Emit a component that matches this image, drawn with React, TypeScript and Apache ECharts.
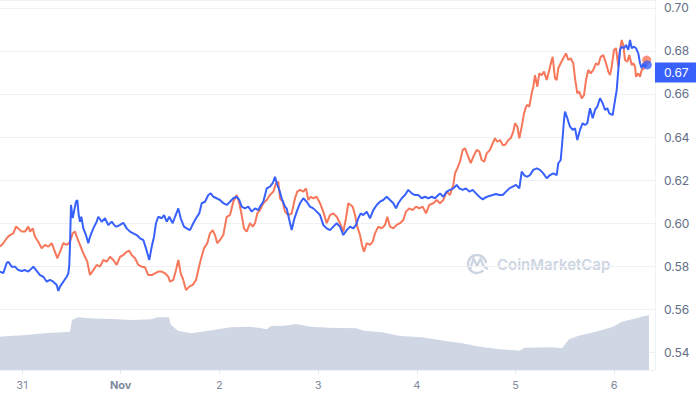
import React, { useEffect, useRef } from "react";
import * as echarts from "echarts";

// Hours relative to Oct 31, 00:00
const blueHours = [
  -5.35, -4.55, -3.72, -3.33, -2.5, -1.7, -0.9, -0.07, 0.73, 1.53, 2.36, 2.75, 3.57, 4.38, 5.18, 6.01, 6.81, 7.61, 8.44, 8.83,
  9.24, 10.04, 10.87, 11.26, 11.5, 11.67, 11.91, 12.33, 12.64, 13.13, 13.45, 13.79, 14.1, 14.42, 14.91, 15.56, 16.12, 16.53,
  17.34, 18.16, 18.55, 19.38, 20.18, 20.98, 21.81, 22.61,
  23.03, 23.83, 24.63, 25.46, 26.26, 27.06, 27.89, 28.69, 29.5, 30.15, 30.95, 31.54, 32.1, 32.58, 33.14, 33.97, 34.53, 35.19,
  35.82, 36.64, 37.2, 38.01, 38.59, 39.39, 40.05, 40.85, 41.65, 42.31, 43.11, 43.7, 44.5, 45.3, 45.89, 46.52, 47.34, 48.15,
  48.95, 49.78, 50.58, 51.38, 52.21, 52.84, 53.42, 54.22, 55.03, 55.85, 56.66, 57.46, 57.87, 58.67, 59.5, 60.3, 60.96, 61.52,
  62.08, 62.56, 63.15, 63.95, 64.36, 65.0, 65.58, 66.14, 66.8, 67.6, 68.4, 69.23, 70.03, 70.83, 71.66, 72.46, 73.26, 74.09, 74.89,
  75.7, 76.52, 77.32, 78.13, 78.95, 79.76, 80.56, 81.22, 81.78, 82.36, 82.99, 83.82, 84.62, 85.42, 86.25, 87.05, 87.85, 88.68,
  89.48, 90.29, 90.94, 91.5, 92.33, 93.13, 93.93, 94.76, 95.56, 96.36, 97.19, 97.99, 98.8, 99.62, 100.43, 101.23,
  101.64, 102.44, 103.27, 104.07, 104.88, 105.7, 106.33, 107.16, 107.96, 108.77, 109.59, 110.39, 111.2, 112.02, 112.83, 113.63,
  114.46, 115.26, 116.06, 116.89, 117.69, 118.5, 119.32, 120.13, 120.93, 121.51, 122.07, 122.73, 123.53, 124.33, 125.16, 125.96,
  126.76, 127.59, 128.39,
  129.19, 130.02, 130.41, 130.99, 131.48, 131.79, 132.04, 132.6, 133.25, 133.91, 134.47, 135.03, 135.68, 136.34, 136.9, 137.46,
  138.11, 138.77, 139.33, 139.89, 140.55, 141.2, 141.76, 142.32, 142.81, 143.63, 143.95, 144.61, 145.0, 145.41, 145.82, 146.38,
  146.87, 147.43, 147.84, 148.26, 148.82, 149.3, 149.86, 150.27, 150.69, 151.08, 151.49, 152.05,
];
const bluePrices = [
  0.5774, 0.5767, 0.5814, 0.582, 0.5797, 0.5797, 0.5781, 0.5777, 0.5781, 0.5774, 0.5789, 0.5797, 0.5777, 0.5758, 0.575, 0.5727,
  0.5735, 0.5727, 0.5712, 0.5684, 0.5704, 0.5727, 0.575, 0.5766, 0.5805, 0.5898, 0.6084, 0.6023, 0.6053, 0.6099, 0.6107, 0.6037,
  0.6006, 0.6029, 0.5975, 0.5944, 0.5906, 0.5936, 0.5975, 0.6006, 0.6029, 0.6006, 0.6022, 0.5991, 0.6006, 0.5986,
  0.5983, 0.5991, 0.6001, 0.5975, 0.596, 0.5952, 0.5944, 0.5929, 0.5921, 0.5882, 0.5828, 0.589, 0.5936, 0.5999, 0.6029, 0.6022,
  0.6037, 0.6006, 0.6029, 0.5999, 0.6029, 0.6068, 0.6022, 0.5983, 0.5975, 0.5967, 0.5999, 0.6022, 0.6045, 0.6092, 0.6099, 0.613,
  0.6138, 0.6122, 0.6115, 0.6107,
  0.6092, 0.6084, 0.6099, 0.6115, 0.6122, 0.6107, 0.6076, 0.6068, 0.6076, 0.6053, 0.6068, 0.606, 0.6076, 0.6099, 0.6161, 0.6169,
  0.6185, 0.6215, 0.6177, 0.6154, 0.6115, 0.6076, 0.6068, 0.6014, 0.5967, 0.6014, 0.6053, 0.6092, 0.6115, 0.6099, 0.6076, 0.6068,
  0.6053, 0.6037, 0.5991, 0.5975, 0.5967,
  0.5983, 0.5999, 0.5983, 0.5944, 0.5967, 0.5983, 0.5975, 0.5991, 0.6022, 0.6045, 0.6037, 0.6053, 0.6022, 0.606, 0.6084, 0.6099,
  0.6107, 0.6122, 0.6107, 0.6092, 0.6068, 0.6092, 0.6115, 0.613, 0.6154, 0.6138, 0.613, 0.613, 0.6115, 0.6122, 0.6115, 0.6122,
  0.6115, 0.613,
  0.6138, 0.6122, 0.6146, 0.6154, 0.6161, 0.6177, 0.6161, 0.6154, 0.6161, 0.6146, 0.6154, 0.6138, 0.6122, 0.611, 0.612, 0.6126,
  0.613, 0.6135, 0.613, 0.613, 0.6146, 0.6161, 0.6169, 0.6177, 0.6161, 0.6239, 0.6223, 0.6215, 0.6223, 0.6247, 0.6254, 0.6247,
  0.6231, 0.6208, 0.6223,
  0.6231, 0.6223, 0.6278, 0.6293, 0.6401, 0.6479, 0.6518, 0.6487, 0.6448, 0.6433, 0.644, 0.6386, 0.6433, 0.6464, 0.6456, 0.6464,
  0.6534, 0.6487, 0.6526, 0.6541, 0.658, 0.6557, 0.6526, 0.6534, 0.651, 0.6502, 0.6541, 0.6619, 0.6712, 0.6805, 0.682, 0.6813,
  0.6828, 0.6805, 0.6851, 0.6813, 0.682, 0.6813, 0.6789, 0.6743, 0.672, 0.6743, 0.6727, 0.6735,
];

const orangeHours = [
  -5.35, -4.55, -3.72, -2.92, -2.12, -1.46, -0.9, -0.07, 0.73, 1.53, 1.95, 2.6, 3.16, 3.96, 4.79, 5.59, 6.4, 7.22, 8.02, 8.58,
  9.24, 10.04, 10.87, 11.67, 12.33, 12.89, 13.45, 14.1, 14.76, 15.32, 15.88, 16.53, 17.34, 18.16, 18.97, 19.77, 20.6, 21.4, 22.2,
  23.03, 23.83, 24.63, 25.46, 26.09, 26.67, 27.48, 28.28, 29.11, 29.91, 30.71, 31.54, 32.34, 33.14, 33.97, 34.77, 35.57, 35.99,
  36.79, 37.45, 38.01, 38.59, 39.22, 39.88, 40.68, 41.51, 42.31, 42.87, 43.45, 44.25, 45.06, 45.71, 46.37, 46.93, 47.49, 48.15,
  48.95, 49.78, 50.58, 51.38, 52.21, 52.84, 53.42, 53.98, 54.64, 55.44, 56.1, 56.66, 57.22, 57.87, 58.67, 59.5, 60.3, 61.11,
  61.76, 62.32, 62.74, 63.39, 63.95, 64.75, 65.58, 66.38, 66.94, 67.6, 68.4, 69.06, 69.62, 70.2, 70.83, 71.66, 72.46, 73.26, 74.09,
  74.89,
  75.7, 76.52, 77.32, 78.13, 78.78, 79.34, 79.93, 80.41, 80.97, 81.53, 82.19, 82.67, 83.16, 83.82, 84.62, 85.28, 85.84, 86.64,
  87.46, 88.27, 88.83, 89.48, 90.29, 91.11, 91.91, 92.72, 93.37, 94.18, 95.0, 95.81, 96.61, 97.44, 98.24, 99.04, 100.01, 100.84,
  101.64,
  102.44, 103.27, 104.07, 104.88, 105.29, 105.85, 106.5, 107.16, 107.72, 108.52, 109.11, 109.74, 110.57, 111.2, 111.78, 112.41,
  113.0, 113.8, 114.46, 115.01, 115.57, 116.23, 116.89, 117.45, 118.25, 118.83, 119.47, 119.88, 120.44, 120.93, 121.51, 122.07,
  122.56, 122.87, 123.36, 123.94, 124.33, 124.74, 125.3, 125.79, 126.37, 126.93, 127.59, 128.22, 128.8,
  129.04, 129.6, 130.02, 130.41, 130.99, 131.62, 132.28, 132.84, 133.42, 134.05, 134.47, 135.03, 135.52, 136.1, 136.66, 137.14,
  137.7, 138.28, 138.92, 139.57, 140.13, 140.72, 141.35, 142.01, 142.57, 142.98, 143.39, 143.95, 144.44, 145.0, 145.41, 145.82,
  146.21, 146.63, 147.19, 147.67, 148.26, 148.65, 149.06, 149.3, 149.86, 150.27, 150.69, 151.25, 151.9,
];
const orangePrices = [
  0.589, 0.5906, 0.5929, 0.5944, 0.5952, 0.5983, 0.5975, 0.596, 0.596, 0.5983, 0.596, 0.5975, 0.5936, 0.5913, 0.5882, 0.5898,
  0.589, 0.5906, 0.5866, 0.5836, 0.5866, 0.5906, 0.5898, 0.5913, 0.5952, 0.596, 0.5929, 0.5898, 0.5866, 0.5843, 0.582, 0.5758,
  0.5781, 0.5805, 0.5797, 0.5828, 0.582, 0.5843, 0.5828,
  0.5805, 0.5843, 0.5851, 0.5866, 0.5871, 0.5851, 0.5836, 0.5805, 0.5797, 0.5794, 0.5758, 0.5758, 0.5766, 0.5774, 0.5774, 0.5766,
  0.575, 0.5727, 0.5735, 0.5781, 0.5828, 0.5766, 0.5735, 0.5688, 0.5704, 0.5712, 0.5735, 0.5781, 0.5828, 0.5882, 0.5906, 0.5952,
  0.5967, 0.5944, 0.5906, 0.5921,
  0.5944, 0.6029, 0.6037, 0.6099, 0.613, 0.6092, 0.6037, 0.5975, 0.596, 0.5999, 0.5983, 0.5999, 0.6045, 0.606, 0.6092, 0.6107,
  0.613, 0.6146, 0.6185, 0.6192, 0.6115, 0.6099, 0.6053, 0.6037, 0.6045, 0.6115, 0.6146, 0.6154, 0.6146, 0.6161, 0.6107, 0.6122,
  0.6115, 0.6122, 0.6092, 0.6053, 0.5999, 0.6037,
  0.6045, 0.6029, 0.5999, 0.596, 0.6022, 0.6092, 0.6084, 0.6076, 0.6037, 0.5983, 0.5944, 0.5898, 0.5866, 0.5906, 0.5898, 0.5913,
  0.5952, 0.5983, 0.5975, 0.5991, 0.6029, 0.5983, 0.5975, 0.5991, 0.5999, 0.6014, 0.6053, 0.6068, 0.606, 0.6076, 0.6068, 0.6076,
  0.6045, 0.6084, 0.6092, 0.6107, 0.6092,
  0.6107, 0.6146, 0.613, 0.6177, 0.6231, 0.6254, 0.6285, 0.634, 0.6347, 0.6308, 0.6278, 0.6308, 0.634, 0.6332, 0.6293, 0.6285,
  0.6324, 0.634, 0.6371, 0.6394, 0.6378, 0.6386, 0.6363, 0.6363, 0.6386, 0.6394, 0.6425, 0.6464, 0.6448, 0.6394, 0.6448, 0.651,
  0.6541, 0.6549, 0.6541, 0.6603, 0.6634, 0.6688, 0.6634, 0.6696, 0.6688, 0.6704, 0.6665, 0.6712, 0.6758,
  0.6773, 0.6673, 0.6665, 0.672, 0.6743, 0.6766, 0.6789, 0.6758, 0.6766, 0.6743, 0.6673, 0.6603, 0.6611, 0.658, 0.6595, 0.6665,
  0.6712, 0.6696, 0.6712, 0.6743, 0.6735, 0.6773, 0.6781, 0.6743, 0.6704, 0.6688, 0.6727, 0.6805, 0.6813, 0.6727, 0.6805, 0.6851,
  0.6828, 0.6758, 0.675, 0.6781, 0.6735, 0.6743, 0.6727, 0.668, 0.6696, 0.668, 0.6712, 0.672, 0.6758,
];

const volumeHours = [
  -5.35, -3.16, 1.22, 5.35, 9.73, 11.67, 12.16, 13.62, 16.29, 21.64, 26.99, 31.37, 33.07, 35.74, 36.23, 37.93, 41.09, 43.77,
  46.44, 50.82, 55.2, 57.39, 59.57, 60.55, 63.71, 66.63, 70.27, 74.65, 81.22, 83.16, 87.54, 91.91, 97.26, 102.61, 106.99, 111.37,
  115.74, 121.09, 122.07, 128.63, 131.31, 133.01, 135.2, 139.57, 143.71, 145.89, 150.27, 152.46,
];
const volumeM = [
  333, 340, 350, 367, 377, 383, 500, 527, 517, 510, 500, 507, 527, 527, 450, 393, 367, 383, 400, 427, 433, 423, 407, 440, 443,
  460, 433, 423, 417, 393, 377, 340, 327, 293, 267, 233, 210, 193, 223, 227, 217, 307, 340, 383, 433, 483, 527, 550,
];

const priceTicks = ["0.54", "0.56", "0.58", "0.60", "0.62", "0.64", "0.66", "0.68", "0.70"];

const BLUE = "#3861fb";
const ORANGE = "#f6775a";
const VOL = "#cfd6e4";
const H = 3600 * 1000;
const BASE = new Date(2023, 9, 31).getTime();
const X_MIN_H = -5.35;
const X_MAX_H = 153.92;
const Y_MIN = 0.53163;
const Y_MAX = 0.70372;
const VOL_MAX = 3700;

export default function App() {
  const ref = useRef<HTMLDivElement>(null);
  useEffect(() => {
    const chart = echarts.init(ref.current!, null, { renderer: "svg" });
    const toData = (hs: number[], vs: number[]) => hs.map((h, i) => [BASE + h * H, vs[i]]);
    const blue = toData(blueHours, bluePrices);
    const orange = toData(orangeHours, orangePrices);
    const vol = toData(volumeHours, volumeM);
    const lastBlue = blue[blue.length - 1];
    const lastOrange = orange[orange.length - 1];
    const wm = "#cdd4e1";
    chart.setOption({
      animation: false,
      textStyle: { fontFamily: "Inter, 'Noto Sans', sans-serif" },
      grid: { left: 0, right: 41, top: 0, bottom: 26 },
      graphic: [
        {
          type: "arc",
          z: 0,
          shape: { cx: 477, cy: 264, r: 9, startAngle: 0.8, endAngle: 6.2 },
          style: { stroke: wm, lineWidth: 2.5 },
        },
        {
          type: "polyline",
          z: 0,
          shape: { points: [[470.5, 268], [473.5, 258.5], [477, 266], [480.5, 258.5], [483, 265.5], [487, 268.5]] },
          style: { stroke: wm, lineWidth: 2.3, lineJoin: "round", lineCap: "round" },
        },
        {
          type: "text",
          z: 0,
          x: 497,
          y: 264,
          style: { text: "CoinMarketCap", fill: wm, font: "600 15px Inter", verticalAlign: "middle" },
        },
      ],
      xAxis: {
        type: "time",
        min: BASE + X_MIN_H * H,
        max: BASE + X_MAX_H * H,
        minInterval: 24 * H,
        maxInterval: 24 * H,
        axisLine: { show: true, lineStyle: { color: "#eff2f5" } },
        axisTick: { show: true, length: 4, lineStyle: { color: "#e3e7ee" } },
        axisLabel: { color: "#808a9d", fontSize: 11, margin: 9 },
        splitLine: { show: false },
      },
      yAxis: [
        {
          type: "value",
          position: "right",
          min: Y_MIN,
          max: Y_MAX,
          splitNumber: 9,
          axisLine: { show: true, lineStyle: { color: "#eff2f5" } },
          axisTick: { show: false },
          axisLabel: {
            color: "#616e85",
            fontSize: 12,
            margin: 9,
            showMinLabel: false,
            showMaxLabel: false,
            formatter: (v: number) => {
              const s = v.toFixed(2);
              return priceTicks.includes(s) && Math.abs(v - parseFloat(s)) < 1e-6 ? s : "";
            },
          },
          splitLine: { lineStyle: { color: "#eff2f5" } },
        },
        { type: "value", min: 0, max: VOL_MAX, show: false, splitLine: { show: false } },
      ],
      series: [
        {
          type: "line",
          yAxisIndex: 1,
          data: vol,
          symbol: "none",
          silent: true,
          lineStyle: { width: 0 },
          areaStyle: { color: VOL, opacity: 1 },
          z: 1,
        },
        {
          type: "line",
          data: orange,
          symbol: "none",
          lineStyle: { color: ORANGE, width: 2 },
          z: 3,
        },
        {
          type: "line",
          data: blue,
          symbol: "none",
          lineStyle: { color: BLUE, width: 2 },
          z: 4,
          markLine: {
            silent: true,
            symbol: ["none", "none"],
            lineStyle: { color: "rgba(0,0,0,0)", width: 0, type: "solid" },
            label: {
              show: true,
              position: "end",
              distance: 0,
              formatter: () => (lastBlue[1] as number).toFixed(2),
              backgroundColor: BLUE,
              color: "#ffffff",
              opacity: 1,
              fontSize: 12,
              padding: [4, 14, 4, 9],
            },
            data: [{ yAxis: lastBlue[1] }],
          },
        },
        {
          type: "scatter",
          data: [lastOrange],
          symbolSize: 9,
          itemStyle: { color: ORANGE },
          z: 5,
          silent: true,
        },
        {
          type: "scatter",
          data: [lastBlue],
          symbolSize: 9,
          itemStyle: { color: BLUE },
          z: 6,
          silent: true,
        },
      ],
    });
    return () => chart.dispose();
  }, []);
  return <div ref={ref} style={{ position: "absolute", left: 0, top: 0, width: 696, height: 396 }} />;
}
